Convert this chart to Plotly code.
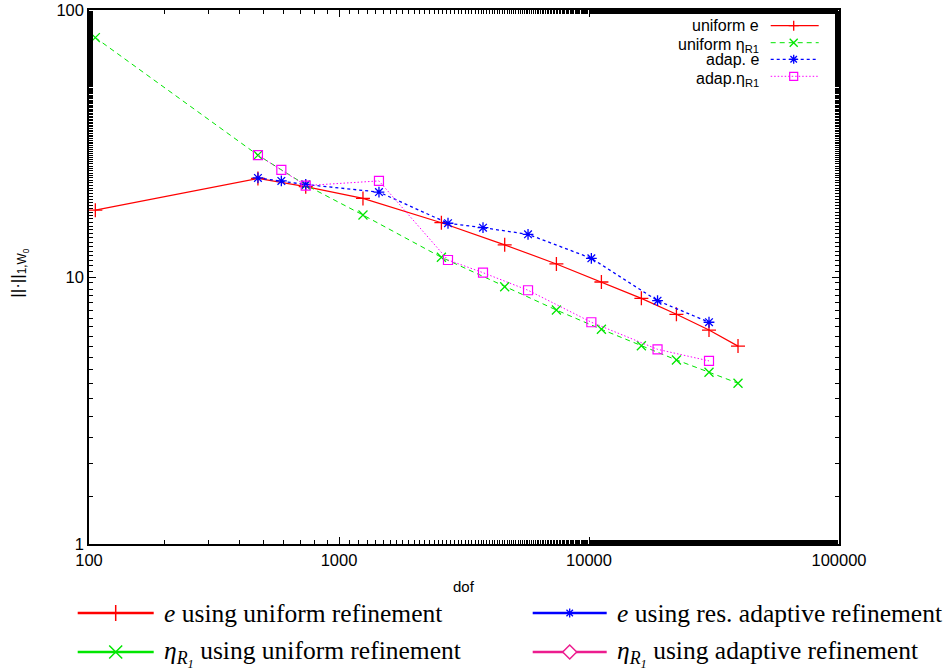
import plotly.graph_objects as go

# ---------------- data ----------------
dof_uniform = [106, 474, 736, 1247, 2568, 4600, 7406, 11210, 16200, 22370, 30200, 39450]
e_uniform = [17.8, 23.4, 21.8, 19.7, 15.97, 13.2, 11.19, 9.58, 8.32, 7.25, 6.33, 5.51]
eta_uniform = [78.8, 28.6, 22.1, 17.07, 11.85, 9.20, 7.52, 6.37, 5.53, 4.89, 4.40, 4.00]

dof_adaptive = [474, 588, 736, 1445, 2729, 3767, 5703, 10220, 18800, 30200]
e_adaptive = [23.5, 22.9, 22.2, 20.8, 15.9, 15.3, 14.45, 11.75, 8.15, 6.77]
eta_adaptive = [28.6, 25.2, 22.0, 22.9, 11.58, 10.38, 8.92, 6.77, 5.36, 4.85]

x_tick_vals = [100, 1000, 10000, 100000]
x_tick_text = ["100", "1000", "10000", "100000"]
y_tick_vals = [1, 10, 100]
y_tick_text = ["1", "10", "100"]

inner_names = ["uniform e", "uniform η<sub>R1</sub>", "adap. e", "adap.η<sub>R1</sub>"]
outer_names = [
    "<i>e</i> using uniform refinement",
    "<i>e</i> using res. adaptive refinement",
    "<i>η<sub>R<sub>1</sub></sub></i> using uniform refinement",
    "<i>η<sub>R<sub>1</sub></sub></i> using adaptive refinement",
]

# ---------------- layout geometry ----------------
W, H = 947, 671
PL, PR, PT, PB = 89.3, 839.3, 10.0, 544.0
SANS = "Liberation Sans, Arial, sans-serif"
SERIF = "Liberation Serif, Times New Roman, serif"


def px(xpix):
    return (xpix - PL) / (PR - PL)


def py(ypix):
    return (PB - ypix) / (PB - PT)


RED, GREEN, BLUE, MAG = "#ff0000", "#00e600", "#0000ff", "#ff00ff"
PINK2 = "#ec1c8e"

styles = [
    dict(color=RED, dash="solid", width=1.2, symbol="cross-thin", msize=10, mwidth=1.3, key="plus", ks=5),
    dict(color=GREEN, dash="5px,4px", width=1.0, symbol="x-thin", msize=9, mwidth=1.3, key="x", ks=4),
    dict(color=BLUE, dash="3px,3px", width=1.3, symbol="asterisk", msize=9, mwidth=1.3, key="star", ks=4.5),
    dict(color=MAG, dash="1.5px,2px", width=1.0, symbol="square-open", msize=9, mwidth=1.2, key="square", ks=4),
]
series = [
    (dof_uniform, e_uniform),
    (dof_uniform, eta_uniform),
    (dof_adaptive, e_adaptive),
    (dof_adaptive, eta_adaptive),
]


def sym_path(kind, s):
    if kind == "plus":
        return f"M{-s},0H{s}M0,{-s}V{s}"
    if kind == "vbar":
        return f"M0,{-s}V{s}"
    if kind == "x":
        return f"M{-s},{-s}L{s},{s}M{-s},{s}L{s},{-s}"
    if kind == "star":
        d = s * 0.72
        return (f"M{-s},0H{s}M0,{-s}V{s}"
                f"M{-d},{-d}L{d},{d}M{-d},{d}L{d},{-d}")
    if kind == "square":
        return f"M{-s},{-s}H{s}V{s}H{-s}Z"
    if kind == "diamond":
        return f"M0,{-s}L{s},0L0,{s}L{-s},0Z"
    return ""


fig = go.Figure()

for (xs, ys), st, nm in zip(series, styles, inner_names):
    fig.add_trace(go.Scatter(
        x=xs, y=ys, mode="lines+markers", name=nm, showlegend=False,
        line=dict(color=st["color"], dash=st["dash"], width=st["width"]),
        marker=dict(symbol=st["symbol"], size=st["msize"], color=st["color"],
                    line=dict(color=st["color"], width=st["mwidth"])),
        cliponaxis=False,
    ))

shapes = []
annotations = []

# ---------------- inner (gnuplot style) key ----------------
key_rows = [25.7, 42.7, 59.3, 76.3]
for row, st, nm in zip(key_rows, styles, inner_names):
    shapes.append(dict(type="line", xref="paper", yref="paper",
                       x0=px(771), x1=px(819), y0=py(row), y1=py(row),
                       line=dict(color=st["color"], dash=st["dash"], width=st["width"])))
    shapes.append(dict(type="path", xref="paper", yref="paper",
                       xsizemode="pixel", ysizemode="pixel",
                       xanchor=px(794), yanchor=py(row),
                       path=sym_path(st["key"], st["ks"]),
                       line=dict(color=st["color"], width=st["mwidth"])))
    has_sub = "<sub>" in nm
    annotations.append(dict(
        x=px(761), y=py(row + (3 if has_sub else 0)), xref="paper", yref="paper", text=nm,
        showarrow=False, xanchor="right", yanchor="middle",
        font=dict(family=SANS, size=16, color="black")))

# ---------------- outer (LaTeX style) legend ----------------
outer_styles = [
    dict(color=RED, key="vbar", ks=8, mwidth=1.5, fill="rgba(0,0,0,0)"),
    dict(color=BLUE, key="star", ks=4.5, mwidth=1.3, fill="rgba(0,0,0,0)"),
    dict(color=GREEN, key="x", ks=6.5, mwidth=1.5, fill="rgba(0,0,0,0)"),
    dict(color=PINK2, key="diamond", ks=7, mwidth=1.5, fill="white"),
]
outer_pos = [(78, 154, 613), (533, 607, 613), (78, 154, 652), (533, 607, 652)]
for (x0, x1, yy), st, nm in zip(outer_pos, outer_styles, outer_names):
    shapes.append(dict(type="line", xref="paper", yref="paper",
                       x0=px(x0), x1=px(x1), y0=py(yy), y1=py(yy),
                       line=dict(color=st["color"], width=2.5)))
    shapes.append(dict(type="path", xref="paper", yref="paper",
                       xsizemode="pixel", ysizemode="pixel",
                       xanchor=px((x0 + x1) / 2), yanchor=py(yy),
                       path=sym_path(st["key"], st["ks"]), fillcolor=st["fill"],
                       line=dict(color=st["color"], width=st["mwidth"])))
    has_sub = "<sub>" in nm
    annotations.append(dict(
        x=px(x1 + 8), y=py(yy + (1 if has_sub else 0)), xref="paper", yref="paper", text=nm,
        showarrow=False, xanchor="left", yanchor="middle",
        font=dict(family=SERIF, size=25.5, color="black")))

# axis titles
annotations.append(dict(x=px(464), y=py(586), xref="paper", yref="paper", text="dof",
                        showarrow=False, xanchor="center", yanchor="middle",
                        font=dict(family=SANS, size=15, color="black")))
annotations.append(dict(x=px(19), y=py(273), xref="paper", yref="paper",
                        text="||·||<sub>1,W<sub>0</sub></sub>", showarrow=False,
                        textangle=-90, xanchor="center", yanchor="middle",
                        font=dict(family=SANS, size=17, color="black")))

axis_common = dict(
    type="log", showgrid=False, zeroline=False, showline=True, linecolor="black", linewidth=1.5,
    mirror="allticks", ticks="inside", ticklen=7, tickwidth=1, tickcolor="black",
    tickfont=dict(family=SANS, size=16.5, color="black"),
    minor=dict(ticks="inside", ticklen=4, tickwidth=1, tickcolor="black", showgrid=False),
)

fig.update_layout(
    width=W, height=H,
    margin=dict(l=PL, r=W - PR, t=PT, b=H - PB, pad=0, autoexpand=False),
    paper_bgcolor="white", plot_bgcolor="white", showlegend=False,
    xaxis=dict(axis_common, range=[2, 5], tickvals=x_tick_vals, ticktext=x_tick_text),
    yaxis=dict(axis_common, range=[0, 2], tickvals=y_tick_vals, ticktext=y_tick_text),
    shapes=shapes,
    annotations=annotations,
)

fig.write_html("out.html")
